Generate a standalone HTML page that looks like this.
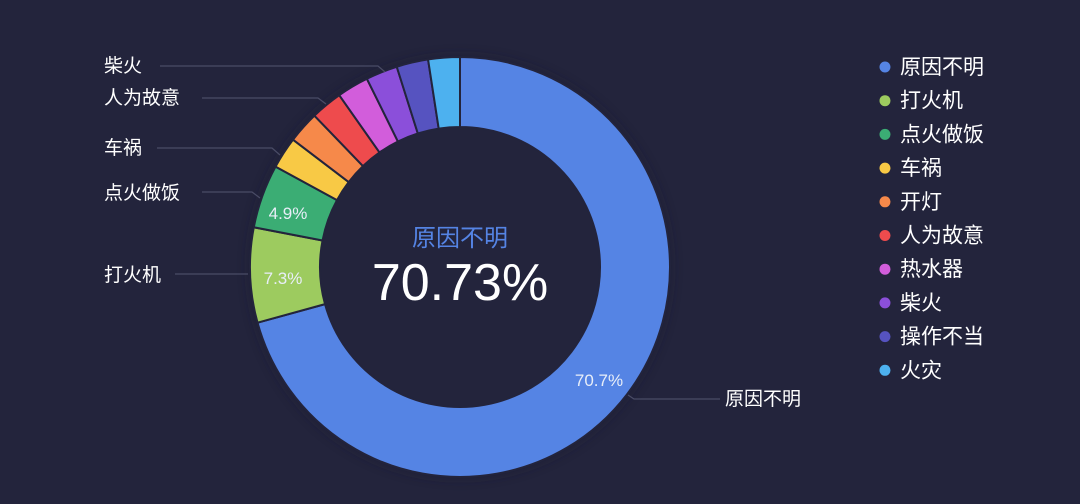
<!DOCTYPE html>
<html><head><meta charset="utf-8"><style>
html,body{margin:0;padding:0;background:#23243c;}
svg{display:block;}
text{font-family:"Liberation Sans","Noto Sans CJK SC",sans-serif;}
</style></head><body>
<svg id="s" width="1080" height="504" viewBox="0 0 1080 504" xmlns="http://www.w3.org/2000/svg">
<rect width="1080" height="504" fill="#23243c"/>
<defs><filter id="sh" x="-20%" y="-20%" width="140%" height="140%"><feGaussianBlur stdDeviation="6"/></filter></defs>
<circle cx="460" cy="267" r="210" fill="#1a1b30" opacity="0.6" filter="url(#sh)"/>
<circle cx="460" cy="267" r="141" fill="#23243c"/>
<g id="slices"></g>
<g fill="none" stroke="#4a4c66" stroke-width="1.2">
<polyline points="160,66 378,66 385,72"/>
<polyline points="202,98 318,98 326,104"/>
<polyline points="157,148 272,148 280,155"/>
<polyline points="202,192 252,192 260,198"/>
<polyline points="175,274 248,274"/>
<polyline points="628,395 634,399 720,399"/>
</g>
<g fill="#ffffff" font-size="19">
<text x="104" y="72">柴火</text>
<text x="104" y="104">人为故意</text>
<text x="104" y="154">车祸</text>
<text x="104" y="199">点火做饭</text>
<text x="104" y="281">打火机</text>
<text x="725" y="405">原因不明</text>
</g>
<g fill="#e8eef8" font-size="17" text-anchor="middle">
<text x="288" y="219">4.9%</text>
<text x="283" y="284">7.3%</text>
<text x="599" y="386">70.7%</text>
</g>
<text x="460" y="246" text-anchor="middle" fill="#5584e4" font-size="24">原因不明</text>
<text x="460" y="300" text-anchor="middle" fill="#ffffff" font-size="52">70.73%</text>
<g id="legend" font-size="21" fill="#ffffff"></g>
</svg>
<script>
var data=[["原因不明",70.73,"#5584e4"],["打火机",7.3,"#9dcb5f"],["点火做饭",4.9,"#3bad74"],["车祸",2.44,"#f8c945"],["开灯",2.44,"#f6894a"],["人为故意",2.44,"#ee4b4d"],["热水器",2.44,"#d25ddb"],["柴火",2.44,"#8b4fda"],["操作不当",2.44,"#5653c0"],["火灾",2.43,"#4db1ef"]];
var cx=460,cy=267,R=210,r=140,a=0,g=document.getElementById('slices'),ns="http://www.w3.org/2000/svg";
function pt(rad,ang){var t=ang*Math.PI/180;return [cx+rad*Math.sin(t),cy-rad*Math.cos(t)];}
data.forEach(function(d){var b=a+d[1]*3.6;var p1=pt(R,a),p2=pt(R,b),p3=pt(r,b),p4=pt(r,a);var l=(b-a)>180?1:0;
var p=document.createElementNS(ns,'path');
p.setAttribute('d','M'+p1+' A'+R+' '+R+' 0 '+l+' 1 '+p2+' L'+p3+' A'+r+' '+r+' 0 '+l+' 0 '+p4+'Z');
p.setAttribute('fill',d[2]);p.setAttribute('stroke','#23243c');p.setAttribute('stroke-width','2');p.setAttribute('stroke-linejoin','round');g.appendChild(p);a=b;});
var lg=document.getElementById('legend');
data.forEach(function(d,i){var y=67+i*33.7;var c=document.createElementNS(ns,'circle');c.setAttribute('cx',885);c.setAttribute('cy',y);c.setAttribute('r',5.5);c.setAttribute('fill',d[2]);lg.appendChild(c);
var t=document.createElementNS(ns,'text');t.setAttribute('x',900);t.setAttribute('y',y+7);t.textContent=d[0];lg.appendChild(t);});
</script>
</body></html>
